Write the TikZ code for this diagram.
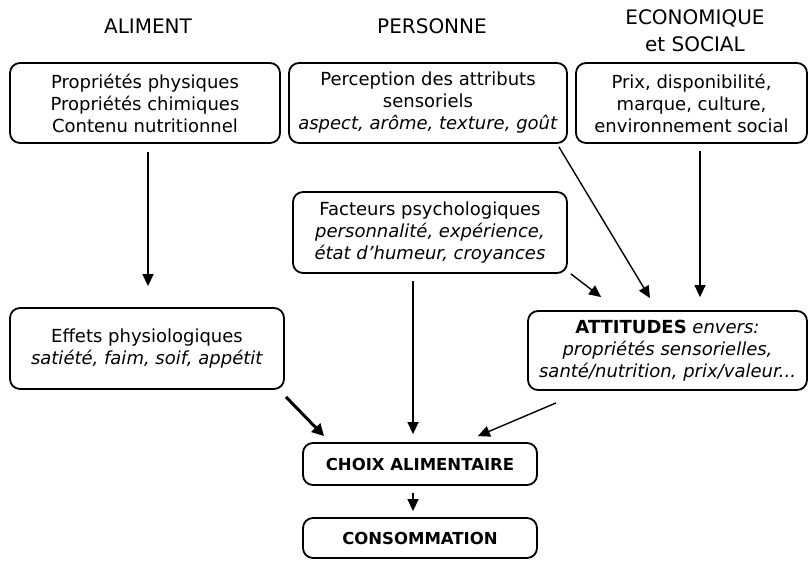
\documentclass[tikz,border=0pt]{standalone}
\usepackage{fontspec}
\setmainfont{DejaVu Sans}
\usetikzlibrary{arrows.meta}
\begin{document}
\begin{tikzpicture}[x=1pt,y=-1pt,
  box/.style={draw, line width=1.8pt, rounded corners=10pt, align=center, inner sep=0pt,
    font=\fontsize{18}{22}\selectfont},
  bbox/.style={box, font=\bfseries\fontsize{16.5}{19}\selectfont},
  ttl/.style={align=center, inner sep=0pt, font=\fontsize{20}{27}\selectfont},
  arr/.style={line width=1.4pt, -{Triangle[length=12pt,width=11pt]}},
  thickarr/.style={line width=3pt, -{Triangle[length=12pt,width=12pt]}}
]
\useasboundingbox (0,0) rectangle (809,561);

% titles
\node[ttl] (t1) at (148,26) {ALIMENT};
\node[ttl] (t2) at (432,26) {PERSONNE};
\node[ttl] (t3) at (695,31) {ECONOMIQUE\\et SOCIAL};

% boxes
\node[box, minimum width=270pt, minimum height=80pt] (b1) at (145,103)
  {Propriétés physiques\\Propriétés chimiques\\Contenu nutritionnel};
\node[box, minimum width=278pt, minimum height=80pt] (b2) at (428,103)
  {Perception des attributs\\sensoriels\\\textit{aspect, arôme, texture, goût}};
\node[box, minimum width=231pt, minimum height=80pt] (b3) at (691.5,103)
  {Prix, disponibilité,\\marque, culture,\\environnement social};
\node[box, minimum width=274pt, minimum height=81pt] (fact) at (430,232.5)
  {Facteurs psychologiques\\\textit{personnalité, expérience,}\\\textit{état d'humeur, croyances}};
\node[box, minimum width=274pt, minimum height=81pt] (eff) at (147,348.5)
  {Effets physiologiques\\\textit{satiété, faim, soif, appétit}};
\node[box, minimum width=279pt, minimum height=79pt] (att) at (667.5,350.5)
  {\textbf{ATTITUDES} \textit{envers:}\\\textit{propriétés sensorielles,}\\\textit{santé/nutrition, prix/valeur...}};
\node[bbox, minimum width=234pt, minimum height=42pt] (choix) at (420,464)
  {CHOIX ALIMENTAIRE};
\node[bbox, minimum width=234pt, minimum height=40pt] (cons) at (420,538)
  {CONSOMMATION};

% connectors
\draw[arr] ([xshift=3pt,yshift=-8pt]b1.south) -- ([xshift=1pt,yshift=21pt]eff.north);
\draw[arr] ([xshift=-9pt,yshift=-3pt]b2.south east) -- ([xshift=-17.5pt,yshift=12pt]att.north);
\draw[arr] ([xshift=3pt,yshift=0pt]fact.south east) -- ([xshift=74pt,yshift=13pt]att.north west);
\draw[arr] ([xshift=8.5pt,yshift=-7pt]b3.south) -- ([xshift=32.5pt,yshift=13pt]att.north);
\draw[thickarr] ([xshift=1pt,yshift=-7pt]eff.south east) -- ([xshift=22pt,yshift=6pt]choix.north west);
\draw[arr] ([xshift=-17pt,yshift=-7pt]fact.south) -- ([xshift=-7pt,yshift=8pt]choix.north);
\draw[arr] ([xshift=29pt,yshift=-12pt]att.south west) -- ([xshift=-60pt,yshift=6pt]choix.north east);
\draw[arr] ([xshift=-7pt,yshift=-7pt]choix.south) -- ([xshift=-7pt,yshift=6pt]cons.north);
\end{tikzpicture}
\end{document}
